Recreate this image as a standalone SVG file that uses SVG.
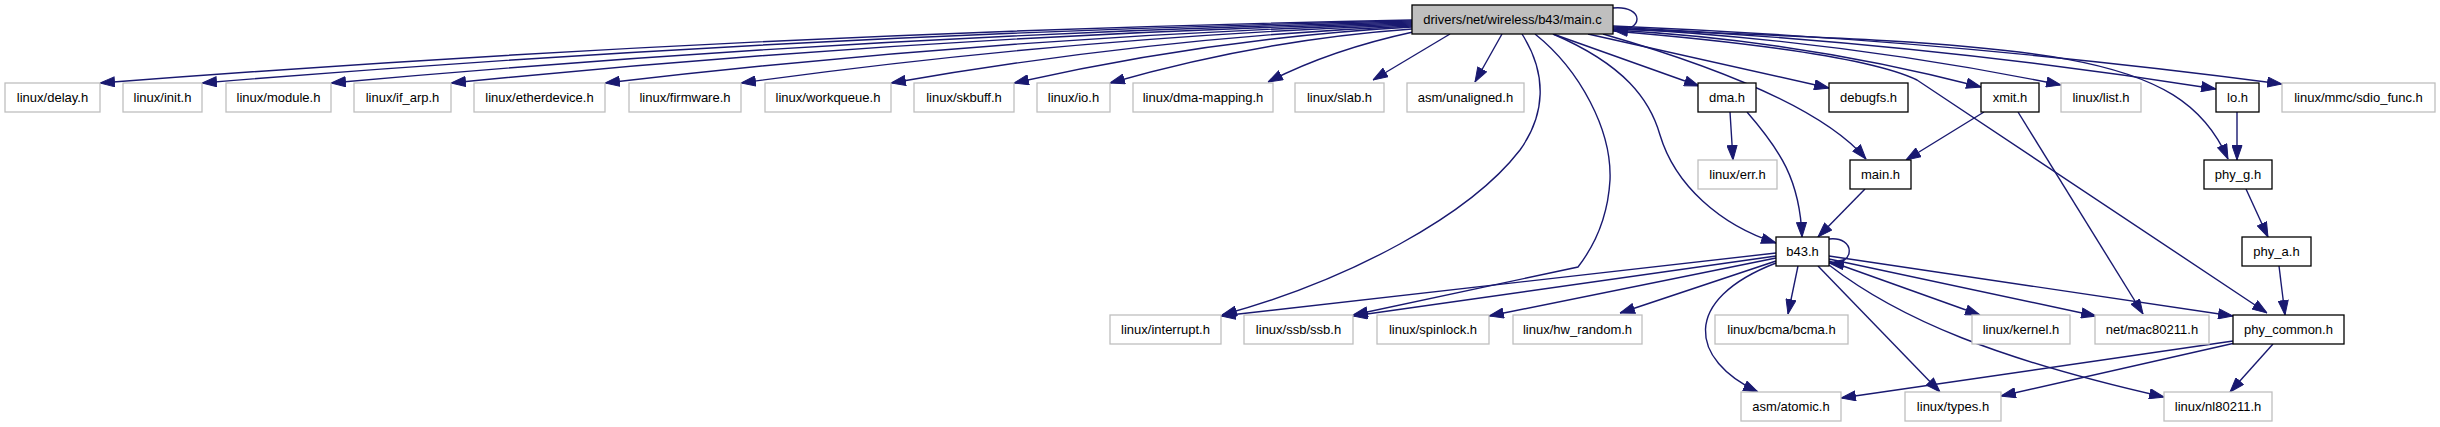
<svg xmlns="http://www.w3.org/2000/svg" width="2440" height="427" viewBox="0 0 2440 427">
<style>
rect{stroke-width:1.3}
.g{fill:#fff;stroke:#bfbfbf}
.b{fill:#fff;stroke:#000}
.m{fill:#bfbfbf;stroke:#000}
text{font-family:"Liberation Sans",Arial,sans-serif;font-size:13px;text-anchor:middle;fill:#000}
#edges path{fill:none;stroke:#191970;stroke-width:1.4;marker-end:url(#arr)}
</style>
<defs>
<marker id="arr" markerUnits="userSpaceOnUse" markerWidth="15" markerHeight="11" viewBox="0 0 15 11" refX="15" refY="5.5" orient="auto">
<path d="M0.5,0.5 L15,5.5 L0.5,10.5 z" fill="#191970" stroke="#191970" stroke-width="1"/>
</marker>
</defs>
<rect width="2440" height="427" fill="#fff"/>
<g id="edges">
<path d="M1412,20 Q756,32.6 100,83"/>
<path d="M1412,21 Q807,33.4 202,83"/>
<path d="M1412,22 Q871.5,34.2 331,83"/>
<path d="M1412,23 Q931.5,35 451,83"/>
<path d="M1412,24 Q1008.5,35.8 605,83"/>
<path d="M1412,25 Q1076.5,36.6 741,83"/>
<path d="M1412,26 Q1151.5,37.4 891,83"/>
<path d="M1412,27 Q1213,38.2 1014,83"/>
<path d="M1412,29 Q1261,39.8 1110,83"/>
<path d="M1413,32 Q1330,50 1268,82"/>
<path d="M1450,34 L1373,80"/>
<path d="M1502,34 L1475,82"/>
<path d="M1553,34 L1699,86"/>
<path d="M1588,34 L1829,88"/>
<path d="M1603,34 C1700,62 1820,105 1866,159"/>
<path d="M1613,30 Q1800,40 1981,87"/>
<path d="M1613,28 Q1840,40 2061,85"/>
<path d="M1613,27 Q1920,42 2216,89"/>
<path d="M1613,26 Q1950,40 2282,84"/>
<path d="M1613,29 C2050,45 2180,50 2228,159"/>
<path d="M1613,31 C1780,45 1880,62 1917,80 L2267,313"/>
<path d="M1553,34 C1625,65 1650,100 1660,135 C1675,185 1720,225 1776,243"/>
<path d="M1522,34 C1548,75 1545,115 1520,150 C1470,215 1350,280 1222,315"/>
<path d="M1535,34 C1580,70 1612,130 1610,180 C1608,215 1595,245 1578,267 L1353,315"/>
<path d="M1613,8 C1645,5 1645,33 1613,30"/>
<path d="M1730,112 L1733,160"/>
<path d="M1747,112 C1780,150 1800,180 1802,237"/>
<path d="M1865,189 L1818,237"/>
<path d="M1984,112 L1906,160"/>
<path d="M2018,112 L2143,314"/>
<path d="M2237,112 L2237,160"/>
<path d="M2246,189 L2268,237"/>
<path d="M2279,266 L2285,315"/>
<path d="M1829,239 C1856,236 1856,266 1829,263"/>
<path d="M1776,253 L1221,316"/>
<path d="M1776,256 L1353,316"/>
<path d="M1776,258 L1489,316"/>
<path d="M1776,261 L1620,313"/>
<path d="M1798,266 L1788,314"/>
<path d="M1776,263 C1680,300 1690,360 1758,392"/>
<path d="M1818,266 L1940,392"/>
<path d="M1829,265 C1900,320 2000,360 2164,397"/>
<path d="M1829,261 L1980,315"/>
<path d="M1829,259 L2096,316"/>
<path d="M1829,256 L2233,316"/>
<path d="M2233,341 L1841,398"/>
<path d="M2235,343 L2001,396"/>
<path d="M2273,344 L2230,392"/>
</g>
<g id="n_main_c"><rect class="m" x="1412" y="5" width="201" height="29"/><text x="1512.5" y="24">drivers/net/wireless/b43/main.c</text></g>
<g id="n_delay"><rect class="g" x="5" y="83" width="95" height="29"/><text x="52.5" y="102">linux/delay.h</text></g>
<g id="n_init"><rect class="g" x="123" y="83" width="79" height="29"/><text x="162.5" y="102">linux/init.h</text></g>
<g id="n_module"><rect class="g" x="226" y="83" width="105" height="29"/><text x="278.5" y="102">linux/module.h</text></g>
<g id="n_if_arp"><rect class="g" x="354" y="83" width="97" height="29"/><text x="402.5" y="102">linux/if_arp.h</text></g>
<g id="n_etherdevice"><rect class="g" x="474" y="83" width="131" height="29"/><text x="539.5" y="102">linux/etherdevice.h</text></g>
<g id="n_firmware"><rect class="g" x="629" y="83" width="112" height="29"/><text x="685" y="102">linux/firmware.h</text></g>
<g id="n_workqueue"><rect class="g" x="765" y="83" width="126" height="29"/><text x="828" y="102">linux/workqueue.h</text></g>
<g id="n_skbuff"><rect class="g" x="914" y="83" width="100" height="29"/><text x="964" y="102">linux/skbuff.h</text></g>
<g id="n_io"><rect class="g" x="1037" y="83" width="73" height="29"/><text x="1073.5" y="102">linux/io.h</text></g>
<g id="n_dma_mapping"><rect class="g" x="1133" y="83" width="140" height="29"/><text x="1203" y="102">linux/dma-mapping.h</text></g>
<g id="n_slab"><rect class="g" x="1295" y="83" width="89" height="29"/><text x="1339.5" y="102">linux/slab.h</text></g>
<g id="n_unaligned"><rect class="g" x="1407" y="83" width="117" height="29"/><text x="1465.5" y="102">asm/unaligned.h</text></g>
<g id="n_dma"><rect class="b" x="1698" y="83" width="58" height="29"/><text x="1727" y="102">dma.h</text></g>
<g id="n_debugfs"><rect class="b" x="1829" y="83" width="79" height="29"/><text x="1868.5" y="102">debugfs.h</text></g>
<g id="n_xmit"><rect class="b" x="1981" y="83" width="58" height="29"/><text x="2010" y="102">xmit.h</text></g>
<g id="n_list"><rect class="g" x="2061" y="83" width="80" height="29"/><text x="2101" y="102">linux/list.h</text></g>
<g id="n_lo"><rect class="b" x="2216" y="83" width="43" height="29"/><text x="2237.5" y="102">lo.h</text></g>
<g id="n_sdio_func"><rect class="g" x="2282" y="83" width="153" height="29"/><text x="2358.5" y="102">linux/mmc/sdio_func.h</text></g>
<g id="n_err"><rect class="g" x="1698" y="160" width="79" height="29"/><text x="1737.5" y="179">linux/err.h</text></g>
<g id="n_main_h"><rect class="b" x="1850" y="160" width="61" height="29"/><text x="1880.5" y="179">main.h</text></g>
<g id="n_phy_g"><rect class="b" x="2204" y="160" width="68" height="29"/><text x="2238" y="179">phy_g.h</text></g>
<g id="n_b43"><rect class="b" x="1776" y="237" width="53" height="29"/><text x="1802.5" y="256">b43.h</text></g>
<g id="n_phy_a"><rect class="b" x="2242" y="237" width="69" height="29"/><text x="2276.5" y="256">phy_a.h</text></g>
<g id="n_interrupt"><rect class="g" x="1110" y="315" width="111" height="29"/><text x="1165.5" y="334">linux/interrupt.h</text></g>
<g id="n_ssb"><rect class="g" x="1244" y="315" width="109" height="29"/><text x="1298.5" y="334">linux/ssb/ssb.h</text></g>
<g id="n_spinlock"><rect class="g" x="1377" y="315" width="112" height="29"/><text x="1433" y="334">linux/spinlock.h</text></g>
<g id="n_hw_random"><rect class="g" x="1513" y="315" width="129" height="29"/><text x="1577.5" y="334">linux/hw_random.h</text></g>
<g id="n_bcma"><rect class="g" x="1715" y="315" width="133" height="29"/><text x="1781.5" y="334">linux/bcma/bcma.h</text></g>
<g id="n_kernel"><rect class="g" x="1972" y="315" width="98" height="29"/><text x="2021" y="334">linux/kernel.h</text></g>
<g id="n_mac80211"><rect class="g" x="2095" y="315" width="114" height="29"/><text x="2152" y="334">net/mac80211.h</text></g>
<g id="n_phy_common"><rect class="b" x="2233" y="315" width="111" height="29"/><text x="2288.5" y="334">phy_common.h</text></g>
<g id="n_atomic"><rect class="g" x="1741" y="392" width="100" height="29"/><text x="1791" y="411">asm/atomic.h</text></g>
<g id="n_types"><rect class="g" x="1905" y="392" width="96" height="29"/><text x="1953" y="411">linux/types.h</text></g>
<g id="n_nl80211"><rect class="g" x="2164" y="392" width="108" height="29"/><text x="2218" y="411">linux/nl80211.h</text></g>
</svg>
